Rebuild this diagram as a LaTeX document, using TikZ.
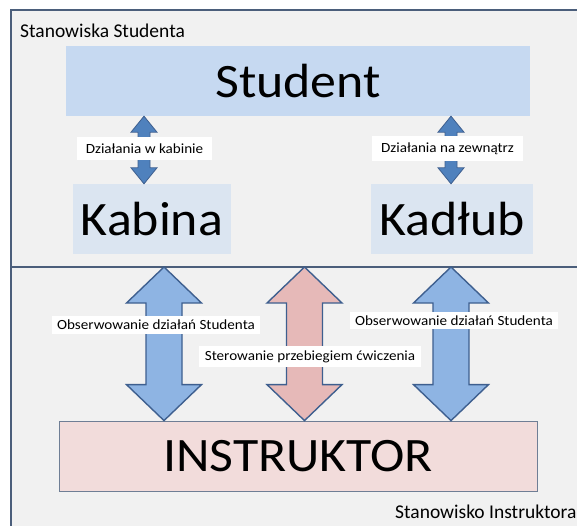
\documentclass[tikz,border=0pt]{standalone}
\usepackage{fontspec}
\setmainfont{Carlito}
\newfontfamily\widefont[FakeStretch=1.08]{Carlito}
\usetikzlibrary{calc}
\usepackage{xcolor}

\definecolor{panelgray}{HTML}{F1F1F1}
\definecolor{panelline}{HTML}{4B5E7B}
\definecolor{studblue}{HTML}{C6D9F1}
\definecolor{partblue}{HTML}{DBE5F1}
\definecolor{instrpink}{HTML}{F2DCDB}
\definecolor{darkarrow}{HTML}{4F81BD}
\definecolor{lightarrow}{HTML}{8EB4E3}
\definecolor{pinkarrow}{HTML}{E6B9B8}
\definecolor{arrowline}{HTML}{3E5F8F}

% fat up/down arrow: style, top, bottom, half head, half shaft, head length
\newcommand{\fatarrow}[6]{%
  \draw[#1] let \p1=(#2), \p2=(#3) in
    (\x1,\y1) -- (\x1+#4,\y1-#6) -- (\x1+#5,\y1-#6) -- (\x1+#5,\y2+#6)
    -- (\x1+#4,\y2+#6) -- (\x1,\y2) -- (\x1-#4,\y2+#6) -- (\x1-#5,\y2+#6)
    -- (\x1-#5,\y1-#6) -- (\x1-#4,\y1-#6) -- cycle;}

\begin{document}
\begin{tikzpicture}[
  x=1pt, y=-1pt,
  big/.style={font=\widefont\fontsize{48}{56}\selectfont, minimum height=70pt, inner sep=0pt},
  studbox/.style={big, fill=studblue, minimum width=464pt},
  partbox/.style={big, fill=partblue},
  instrbox/.style={big, fill=instrpink, draw=panelline!80, line width=0.8pt, minimum width=478pt},
  lbl/.style={fill=white, font=\widefont\fontsize{14}{16}\selectfont, inner xsep=5.5pt, inner ysep=4pt},
  smalllbl/.style={lbl, inner xsep=9pt, inner ysep=6.5pt},
  area/.style={font=\fontsize{19.5}{22}\selectfont, inner sep=0pt, anchor=west},
  thinarr/.style={fill=darkarrow, draw=arrowline, line width=0.8pt, line join=miter},
  bluearr/.style={fill=lightarrow, draw=arrowline, line width=1.4pt, line join=miter},
  pinkarr/.style={fill=pinkarrow, draw=arrowline, line width=1.4pt, line join=miter}
]
  \path[use as bounding box, clip] (0,0) rectangle (577,526);

  % ---- panel with two areas ----
  \draw[fill=panelgray, draw=panelline, line width=2pt] (11,10) rectangle (600,560);
  \coordinate (divW) at (11,267);
  \coordinate (divE) at (600,267);
  \draw[panelline, line width=1.5pt] (divW) -- (divE);

  \node[area] (stanS) at (20,31)  {Stanowiska Studenta};
  \node[area] (stanI) at (395,512) {Stanowisko Instruktora};

  % ---- blocks ----
  \node[studbox]  (student) at (298,81)  {Student};
  \node[partbox, minimum width=158pt] (kabina) at (152,219) {Kabina};
  \node[partbox, minimum width=162pt] (kadlub) at (452,219) {Kadłub};
  \node[instrbox] (instr)   at (298,456) {INSTRUKTOR};

  % ---- student <-> cabin / hull ----
  \coordinate (kabArr) at ($(kabina.north)+(-8,0)$);
  \coordinate (kadArr) at ($(kadlub.north)+(-1,0)$);
  \fatarrow{thinarr}{kabArr |- student.south}{kabArr}{13pt}{6pt}{16pt}
  \fatarrow{thinarr}{kadArr |- student.south}{kadArr}{13pt}{6pt}{16pt}
  \node[smalllbl] (dzK) at (144.5,148.5) {Działania w kabinie};
  \node[smalllbl] (dzZ) at (447.5,148.5) {Działania na zewnątrz};

  % ---- instructor <-> student area ----
  \coordinate (obsL) at (164,267);
  \coordinate (ster) at (304.5,267);
  \coordinate (obsR) at (451,267);
  \fatarrow{bluearr}{obsL}{obsL |- instr.north}{37.5pt}{18pt}{36pt}
  \fatarrow{pinkarr}{ster}{ster |- instr.north}{37.5pt}{18pt}{36pt}
  \fatarrow{bluearr}{obsR}{obsR |- instr.north}{37.5pt}{18pt}{36pt}
  \node[lbl] (obsLl) at (156,325)   {Obserwowanie działań Studenta};
  \node[lbl] (obsRl) at (454,320.5) {Obserwowanie działań Studenta};
  \node[lbl] (sterl) at (310,356.5) {Sterowanie przebiegiem ćwiczenia};
\end{tikzpicture}
\end{document}
